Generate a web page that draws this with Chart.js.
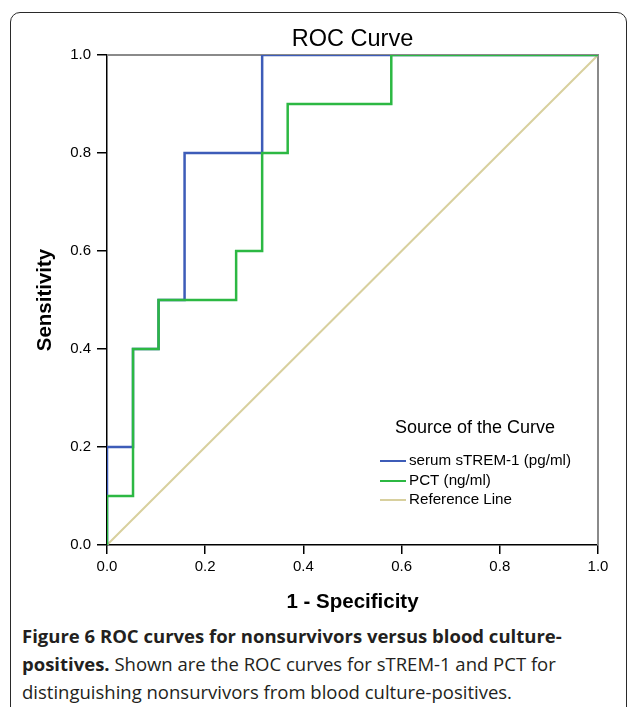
<!DOCTYPE html>
<html>
<head>
<meta charset="utf-8">
<script src="https://cdn.jsdelivr.net/npm/chart.js@4"></script>
<style>
  html, body { margin: 0; padding: 0; background: #fff; }
  #wrap { position: relative; width: 630px; height: 707px; overflow: hidden; }
  #frame { position: absolute; left: 10px; top: 12px; width: 615px; height: 760px;
           border: 1.5px solid #2a2a2a; border-radius: 10px; }
  #c { position: absolute; left: 0; top: 0; }
  #caption { position: absolute; left: 22px; top: 622px; width: 606px;
             font-family: "Open Sans", sans-serif; font-size: 18.5px; line-height: 28px; color: #231f20; white-space: nowrap; }
  #caption b { font-weight: 700; }
</style>
</head>
<body>
<div id="wrap">
  <div id="frame"></div>
  <canvas id="c" width="630" height="620"></canvas>
  <div id="caption"><b>Figure 6 ROC curves for nonsurvivors versus blood culture-<br>positives.</b> Shown are the ROC curves for sTREM-1 and PCT for<br>distinguishing nonsurvivors from blood culture-positives.</div>
</div>
<script>
// ---- data ----
const tickValues = [0.0, 0.2, 0.4, 0.6, 0.8, 1.0];
const stremFpr = [0, 0, 0.053, 0.053, 0.105, 0.105, 0.158, 0.158, 0.316, 0.316, 1.0];
const stremTpr = [0, 0.2, 0.2, 0.4, 0.4, 0.5, 0.5, 0.8, 0.8, 1.0, 1.0];
const pctFpr = [0, 0, 0.053, 0.053, 0.105, 0.105, 0.263, 0.263, 0.316, 0.316, 0.368, 0.368, 0.579, 0.579, 1.0];
const pctTpr = [0, 0.1, 0.1, 0.4, 0.4, 0.5, 0.5, 0.6, 0.6, 0.8, 0.8, 0.9, 0.9, 1.0, 1.0];
const refFpr = [0, 1];
const refTpr = [0, 1];
const seriesNames = ["serum sTREM-1 (pg/ml)", "PCT (ng/ml)", "Reference Line"];
const seriesColors = ["#3d5cb8", "#2cb843", "#d8d09e"];

const toPts = (xs, ys) => xs.map((x, i) => ({ x: x, y: ys[i] }));

const framePlugin = {
  id: 'frame',
  beforeDatasetsDraw(chart) {
    const { ctx, chartArea: a } = chart;
    ctx.save();
    ctx.strokeStyle = '#8a8a8a';
    ctx.lineWidth = 2;
    ctx.beginPath();
    ctx.moveTo(a.left, a.top);
    ctx.lineTo(a.right, a.top);
    ctx.lineTo(a.right, a.bottom);
    ctx.stroke();
    ctx.restore();
  },
  afterDraw(chart) {
    const { ctx, chartArea: a } = chart;
    ctx.save();
    // chart title
    ctx.fillStyle = '#000';
    ctx.font = '23.5px "Liberation Sans", Arial, sans-serif';
    ctx.textAlign = 'center';
    ctx.textBaseline = 'middle';
    ctx.fillText('ROC Curve', (a.left + a.right) / 2, 40);
    // legend
    ctx.textAlign = 'left';
    ctx.font = '18px "Liberation Sans", Arial, sans-serif';
    ctx.fillText('Source of the Curve', 395, 428);
    ctx.font = '15.2px "Liberation Sans", Arial, sans-serif';
    const ys = [461, 481, 500];
    chart.data.datasets.forEach((ds, i) => {
      ctx.strokeStyle = ds.borderColor;
      ctx.lineWidth = 2;
      ctx.beginPath();
      ctx.moveTo(380, ys[i]);
      ctx.lineTo(406, ys[i]);
      ctx.stroke();
      ctx.fillStyle = '#000';
      ctx.fillText(ds.label, 409, ys[i]);
    });
    ctx.restore();
  }
};

new Chart(document.getElementById('c'), {
  type: 'scatter',
  data: {
    datasets: [
      { label: seriesNames[0], data: toPts(stremFpr, stremTpr), borderColor: seriesColors[0], backgroundColor: seriesColors[0],
        showLine: true, pointRadius: 0, borderWidth: 2.5, order: 2 },
      { label: seriesNames[1], data: toPts(pctFpr, pctTpr), borderColor: seriesColors[1], backgroundColor: seriesColors[1],
        showLine: true, pointRadius: 0, borderWidth: 2.5, order: 1 },
      { label: seriesNames[2], data: toPts(refFpr, refTpr), borderColor: seriesColors[2], backgroundColor: seriesColors[2],
        showLine: true, pointRadius: 0, borderWidth: 2, order: 3 }
    ]
  },
  options: {
    responsive: false,
    animation: false,
    devicePixelRatio: 1,
    layout: { padding: { top: 55, left: 0, right: 32, bottom: 0 } },
    plugins: { legend: { display: false }, tooltip: { enabled: false }, title: { display: false } },
    scales: {
      x: {
        type: 'linear', min: 0, max: 1,
        afterFit: s => { s.height = 75; },
        afterBuildTicks: s => { s.ticks = tickValues.map(v => ({ value: v })); },
        ticks: { color: '#000', padding: 4, font: { family: '"Liberation Sans", Arial', size: 15 },
                 callback: v => Number(v).toFixed(1), maxRotation: 0 },
        grid: { drawOnChartArea: false, drawTicks: true, tickLength: 9, color: '#000', lineWidth: 1.5 },
        border: { display: true, color: '#000', width: 1.5 },
        title: { display: true, text: '1 - Specificity', color: '#000',
                 font: { family: '"Liberation Sans", Arial', size: 20.5, weight: 'bold' }, padding: { top: 0, bottom: 5 } }
      },
      y: {
        type: 'linear', min: 0, max: 1,
        afterFit: s => { s.width = 107; },
        afterBuildTicks: s => { s.ticks = tickValues.map(v => ({ value: v })); },
        ticks: { color: '#000', padding: 6, font: { family: '"Liberation Sans", Arial', size: 15 },
                 callback: v => Number(v).toFixed(1) },
        grid: { drawOnChartArea: false, drawTicks: true, tickLength: 10, color: '#000', lineWidth: 1.5 },
        border: { display: true, color: '#000', width: 1.5 },
        title: { display: true, text: 'Sensitivity', color: '#000',
                 font: { family: '"Liberation Sans", Arial', size: 20.5, weight: 'bold' }, padding: { top: 33, bottom: 0 } }
      }
    }
  },
  plugins: [framePlugin]
});
</script>
</body>
</html>
